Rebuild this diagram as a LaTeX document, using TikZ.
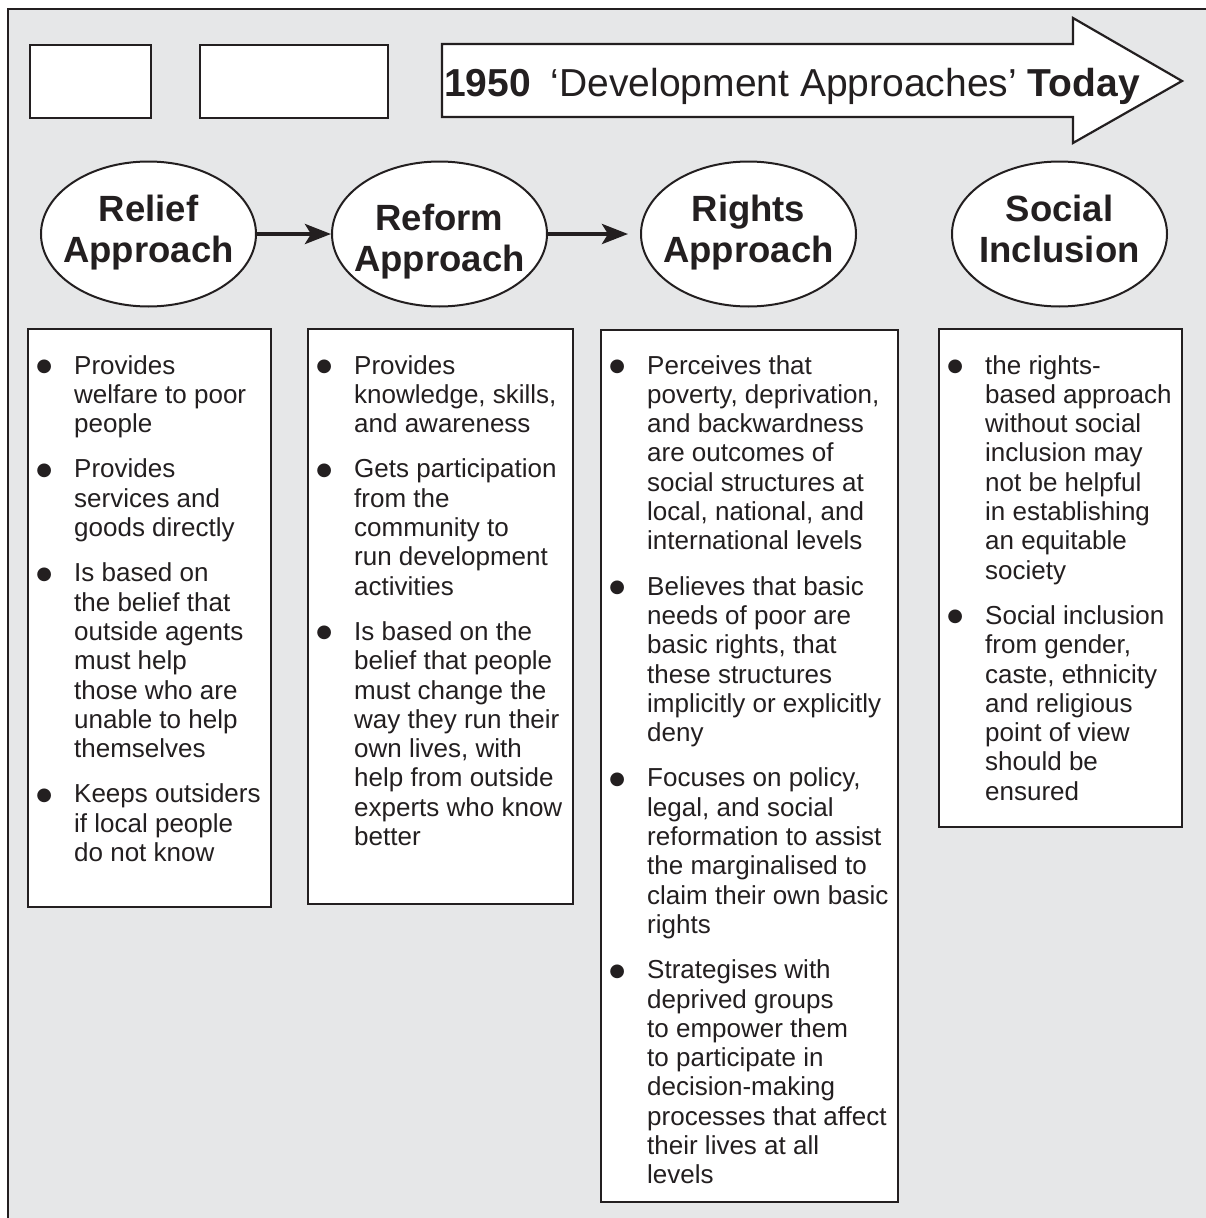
\documentclass[tikz,border=0pt]{standalone}
\usepackage{fontspec}
\setmainfont{Liberation Sans}
\newfontfamily\symfont{DejaVu Sans}
\usetikzlibrary{arrows.meta,calc,shapes.geometric}
\definecolor{ink}{RGB}{35,31,32}
\definecolor{panel}{RGB}{230,231,232}

\newcommand{\dotmark}{\makebox[0pt]{\raisebox{2.5pt}{\symfont\fontsize{18}{18}\selectfont ●}}}
\newenvironment{points}{\begin{list}{\dotmark}{%
	\setlength{\leftmargin}{47pt}\setlength{\labelwidth}{0pt}%
	\setlength{\labelsep}{30pt}\setlength{\itemsep}{16pt}%
	\setlength{\parsep}{0pt}\setlength{\topsep}{0pt}\setlength{\partopsep}{0pt}}}%
	{\end{list}}
\newcommand{\ovaltext}[3][-6pt]{\smash{\makebox[0pt]{\raisebox{#1}{%
	\begin{tabular}{@{}c@{}}#2\\#3\end{tabular}}}}}

\begin{document}
\begin{tikzpicture}[x=1pt,y=-1pt,
	tag/.style={draw=ink, line width=2.2pt, fill=white},
	oval/.style={ellipse, draw=ink, line width=2pt, fill=white, inner sep=0pt,
		minimum width=215, minimum height=145, text=ink,
		font=\fontsize{36.5}{41}\selectfont\bfseries},
	link/.style={draw=ink, line width=4pt, -{Stealth[length=26pt,width=20pt,inset=6pt]}},
	listbox/.style={draw=ink, line width=2pt, fill=white, anchor=north west, inner sep=0pt},
	listtext/.style={anchor=base west, inner sep=0pt, text=ink,
		font=\fontsize{26}{29.3}\selectfont}]
		\useasboundingbox (0,0) rectangle (1206,1218);
		\clip (0,0) rectangle (1206,1218);
		\draw[ink, line width=2.5pt, fill=panel] (8,9) rectangle (1240,1240);

		% top row
		\node[tag, anchor=north west, minimum width=121, minimum height=73] (blankA) at (29,44) {};
		\node[tag, anchor=north west, minimum width=188, minimum height=73] (blankB) at (199,44) {};
		\draw[tag] (442,44) -- (1073,44) -- (1073,18) -- (1182,81) -- (1073,143)
			-- (1073,117) -- (442,117) -- cycle;
		\node[anchor=base west, inner sep=0pt, text=ink, font=\fontsize{39}{44}\selectfont] (title)
			at (444,96) {\textbf{1950}\hspace{20pt}‘Development Approaches’ \textbf{Today}};

		% approaches
		\node[oval] (relief) at (148.5,234) {\ovaltext{Relief}{Approach}};
		\node[oval] (reform) at (439.5,234) {\ovaltext[-15pt]{Reform}{Approach}};
		\node[oval] (rights) at (748.5,234) {\ovaltext{Rights}{Approach}};
		\node[oval] (social) at (1059.5,234) {\ovaltext{Social}{Inclusion}};
		\draw[link] (relief) -- (reform);
		\draw[link, shorten >=12pt] (reform) -- (rights);

		% lists
		\node[listbox, minimum width=243, minimum height=578] (reliefbox) at (27,328) {};
		\node[listbox, minimum width=265, minimum height=575] (reformbox) at (307,328) {};
		\node[listbox, minimum width=297, minimum height=872] (rightsbox) at (600,329) {};
		\node[listbox, minimum width=243, minimum height=498] (socialbox) at (938,328) {};

		\node[listtext] (relieflist) at ($(reliefbox.north west)+(0,46)$) {%
			\begin{minipage}[t]{300pt}\raggedright\begin{points}
			\item Provides\\ welfare to poor\\ people
			\item Provides\\ services and\\ goods directly
			\item Is based on\\ the belief that\\ outside agents\\ must help\\ those who are\\ unable to help\\ themselves
			\item Keeps outsiders\\ if local people\\ do not know
			\end{points}\end{minipage}};
		\node[listtext] (reformlist) at ($(reformbox.north west)+(0,46)$) {%
			\begin{minipage}[t]{300pt}\raggedright\begin{points}
			\item Provides\\ knowledge, skills,\\ and awareness
			\item Gets participation\\ from the\\ community to\\ run development\\ activities
			\item Is based on the\\ belief that people\\ must change the\\ way they run their\\ own lives, with\\ help from outside\\ experts who know\\ better
			\end{points}\end{minipage}};
		\node[listtext] (rightslist) at ($(rightsbox.north west)+(0,45)$) {%
			\begin{minipage}[t]{320pt}\raggedright\begin{points}
			\item Perceives that\\ poverty, deprivation,\\ and backwardness\\ are outcomes of\\ social structures at\\ local, national, and\\ international levels
			\item Believes that basic\\ needs of poor are\\ basic rights, that\\ these structures\\ implicitly or explicitly\\ deny
			\item Focuses on policy,\\ legal, and social\\ reformation to assist\\ the marginalised to\\ claim their own basic\\ rights
			\item Strategises with\\ deprived groups\\ to empower them\\ to participate in\\ decision-making\\ processes that affect\\ their lives at all\\ levels
			\end{points}\end{minipage}};
		\node[listtext] (sociallist) at ($(socialbox.north west)+(0,46)$) {%
			\begin{minipage}[t]{300pt}\raggedright\begin{points}
			\item the rights-\\ based approach\\ without social\\ inclusion may\\ not be helpful\\ in establishing\\ an equitable\\ society
			\item Social inclusion\\ from gender,\\ caste, ethnicity\\ and religious\\ point of view\\ should be\\ ensured
			\end{points}\end{minipage}};
	\end{tikzpicture}
\end{document}
